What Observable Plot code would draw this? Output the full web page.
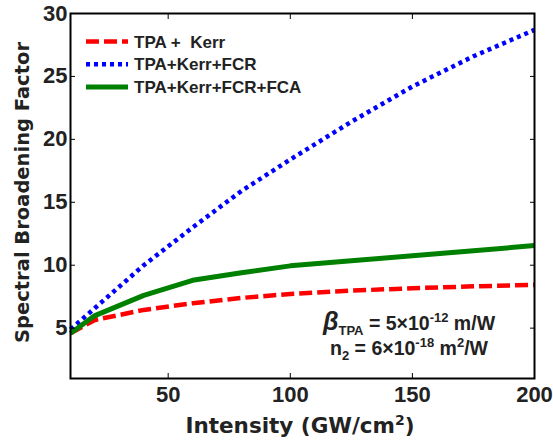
<!DOCTYPE html>
<html>
<head>
<meta charset="utf-8">
<script src="https://cdn.jsdelivr.net/npm/d3@7"></script>
<script src="https://cdn.jsdelivr.net/npm/@observablehq/plot@0.6"></script>
<style>
  html, body { margin: 0; padding: 0; background: #fff; }
  #chart { width: 553px; height: 442px; }
  #chart svg text, #chart svg tspan { font-family: "Liberation Sans", Arial, Helvetica, sans-serif; font-weight: bold !important; }
  #chart svg text.axtitle, #chart svg text.axtitle tspan { font-family: "DejaVu Sans", Verdana, sans-serif !important; }
</style>
</head>
<body>
<div id="chart"></div>
<script>
// ---- data ----
const intensity = [10, 20, 40, 60, 80, 100, 125, 150, 175, 200];
const tpaKerr = [4.6, 5.65, 6.45, 6.98, 7.4, 7.72, 7.98, 8.17, 8.32, 8.44];
const tpaKerrFcr = [4.9, 6.6, 10.0, 13.0, 15.9, 18.4, 21.4, 24.2, 26.6, 28.7];
const tpaKerrFcrFca = [4.6, 6.0, 7.6, 8.8, 9.4, 9.95, 10.35, 10.75, 11.15, 11.56];
const seriesNames = ["TPA +  Kerr", "TPA+Kerr+FCR", "TPA+Kerr+FCR+FCA"];
const seriesColors = ["#ff0000", "#0000ff", "#008000"];
const seriesDash = ["13,5", "4,4", null];
const seriesWidth = [4.5, 4.5, 5];
const xTicks = [50, 100, 150, 200];
const yTicks = [5, 10, 15, 20, 25, 30];

const seriesValues = [tpaKerr, tpaKerrFcr, tpaKerrFcrFca];
const rows = [];
seriesValues.forEach((vals, s) => vals.forEach((v, i) => rows.push({series: s, x: intensity[i], y: v})));

const W = 553, H = 442;
const mL = 70, mR = 19, mT = 13, mB = 64;
const FONT = "Liberation Sans, Arial, Helvetica, sans-serif";
const TXT = "#222";

const lineMarks = [0, 1, 2].map(s => Plot.line(rows.filter(d => d.series === s), {
  x: "x", y: "y",
  stroke: seriesColors[s],
  strokeWidth: seriesWidth[s],
  strokeDasharray: seriesDash[s],
  strokeLinecap: "butt",
  strokeLinejoin: "round"
}));

const plot = Plot.plot({
  width: W, height: H,
  marginLeft: mL, marginRight: mR, marginTop: mT, marginBottom: mB,
  style: {fontFamily: FONT, background: "#fff", overflow: "visible"},
  x: {domain: [10, 200]},
  y: {domain: [1, 30]},
  marks: [
    ...lineMarks,
    Plot.axisX(xTicks, {anchor: "bottom", tickSize: 0, tickPadding: 8, fontSize: 22, fill: TXT, label: null}),
    Plot.axisX(xTicks, {anchor: "bottom", tickSize: -5, text: null, stroke: "#000", label: null}),
    Plot.axisX(xTicks, {anchor: "top", tickSize: -5, text: null, stroke: "#000", label: null}),
    Plot.axisY(yTicks, {anchor: "left", tickSize: 0, tickPadding: 3, fontSize: 22, fill: TXT, label: null}),
    Plot.axisY(yTicks, {anchor: "left", tickSize: -5, text: null, stroke: "#000", label: null}),
    Plot.axisY(yTicks, {anchor: "right", tickSize: -5, text: null, stroke: "#000", label: null}),
    Plot.frame({stroke: "#000", strokeWidth: 2})
  ]
});
document.getElementById("chart").appendChild(plot);

const svg = d3.select(plot);
// axis titles
svg.append("text").attr("class", "axtitle")
  .attr("x", mL + (W - mL - mR) / 2 - 2).attr("y", 433)
  .attr("text-anchor", "middle")
  .attr("font-size", 21.5)
  .attr("fill", TXT)
  .call(t => { t.append("tspan").text("Intensity (GW/cm"); t.append("tspan").attr("font-size", 14).attr("dy", -8).text("2"); t.append("tspan").attr("dy", 8).text(")"); });
svg.append("text").attr("class", "axtitle")
  .attr("transform", `translate(29,${mT + (H - mT - mB) / 2 - 3}) rotate(-90)`)
  .attr("text-anchor", "middle")
  .attr("font-size", 19.5)
  .attr("fill", TXT)
  .text("Spectral Broadening Factor");

// legend
const lg = svg.append("g");
seriesNames.forEach((name, i) => {
  const cy = 41.5 + i * 22.8;
  lg.append("line").attr("x1", 86).attr("x2", 128).attr("y1", cy).attr("y2", cy)
    .attr("stroke", seriesColors[i]).attr("stroke-width", seriesWidth[i])
    .attr("stroke-dasharray", seriesDash[i] || null);
  lg.append("text").attr("x", 134).attr("y", cy).attr("dy", "0.36em")
    .attr("text-anchor", "start")
    .attr("font-size", 17)
    .attr("fill", TXT).text(name);
});

// annotation
const ax = 409;
const a1 = svg.append("text").attr("x", ax).attr("y", 330).attr("text-anchor", "middle")
  .attr("font-size", 19.5).attr("fill", TXT);
a1.append("tspan").attr("font-style", "italic").attr("font-size", 25).text("β");
a1.append("tspan").attr("font-size", 13).attr("dy", 5).text("TPA");
a1.append("tspan").attr("dy", -5).text(" = 5×10");
a1.append("tspan").attr("font-size", 13).attr("dy", -8).text("-12");
a1.append("tspan").attr("dy", 8).text(" m/W");
const a2 = svg.append("text").attr("x", ax).attr("y", 355).attr("text-anchor", "middle")
  .attr("font-size", 19.5).attr("fill", TXT);
a2.append("tspan").text("n");
a2.append("tspan").attr("font-size", 13).attr("dy", 5).text("2");
a2.append("tspan").attr("dy", -5).text(" = 6×10");
a2.append("tspan").attr("font-size", 13).attr("dy", -8).text("-18");
a2.append("tspan").attr("dy", 8).text(" m");
a2.append("tspan").attr("font-size", 13).attr("dy", -8).text("2");
a2.append("tspan").attr("dy", 8).text("/W");
</script>
</body>
</html>
